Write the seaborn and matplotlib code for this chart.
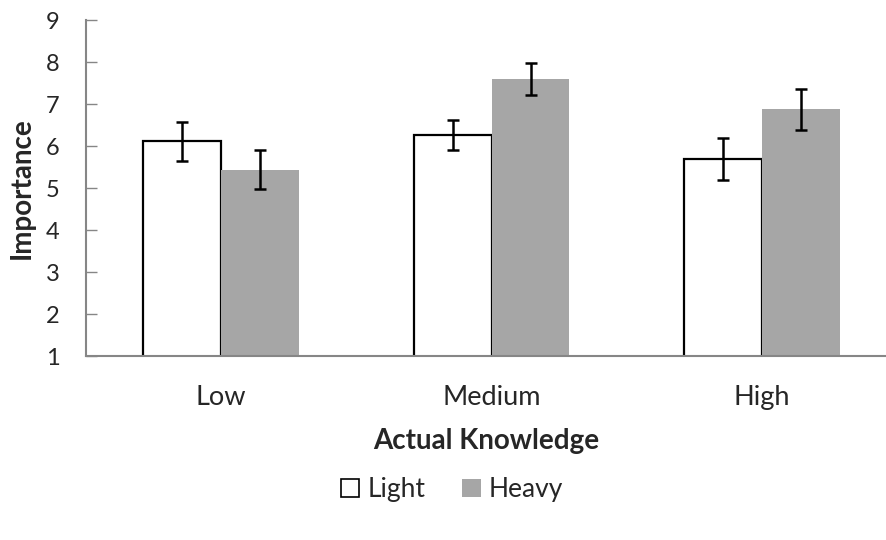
import pandas as pd
import matplotlib
matplotlib.use("Agg")
import matplotlib.pyplot as plt
from matplotlib.patches import Patch
import seaborn as sns

# datos
knowledge = ["Low", "Medium", "High"]
groups = ["Light", "Heavy"]
light_means = [6.11, 6.26, 5.69]
heavy_means = [5.44, 7.60, 6.87]
light_err = [0.47, 0.36, 0.51]
heavy_err = [0.47, 0.38, 0.49]

df = pd.DataFrame({
    "knowledge": knowledge * 2,
    "group": ["Light"] * 3 + ["Heavy"] * 3,
    "importance": light_means + heavy_means,
})

sns.set_theme(style="white")
plt.rcParams["font.family"] = ["Lato", "DejaVu Sans"]

fig = plt.figure(figsize=(8.86, 5.4), dpi=100)
ax = fig.add_axes([86 / 886, 0.3407, 800 / 886, 0.6222])

sns.barplot(data=df, x="knowledge", y="importance", hue="group",
            order=knowledge, hue_order=groups,
            palette={"Light": "white", "Heavy": "#a6a6a6"},
            width=0.576, errorbar=None, ax=ax, legend=False)

# bordes: Light con borde negro, Heavy sin borde
for patch, g in zip(ax.patches, ["Light"] * 3 + ["Heavy"] * 3):
    if g == "Light":
        patch.set_edgecolor("black")
        patch.set_linewidth(1.6)
    else:
        patch.set_edgecolor("none")

# barras de error
errs = light_err + heavy_err
for patch, e in zip(ax.patches[:6], errs):
    xc = patch.get_x() + patch.get_width() / 2
    ax.errorbar(xc, patch.get_height(), yerr=e, fmt="none", ecolor="black",
                elinewidth=1.8, capsize=4.5, capthick=1.8, zorder=5)

ax.set_ylim(1, 9)
ax.set_xlim(-0.499, 2.458)
ax.set_yticks(range(1, 10))
ax.tick_params(axis="y", direction="in", length=8, width=1, color="#868686",
               labelsize=17, pad=19, left=True)
ax.tick_params(axis="x", length=0, labelsize=19.5, pad=21)
for side in ["top", "right"]:
    ax.spines[side].set_visible(False)
for side in ["left", "bottom"]:
    ax.spines[side].set_color("#868686")
    ax.spines[side].set_linewidth(1.5)

ax.set_ylabel("Importance", fontsize=20, fontweight="bold", labelpad=8)
ax.set_xlabel("Actual Knowledge", fontsize=20, fontweight="bold", labelpad=13)

handles = [Patch(facecolor="white", edgecolor="black", linewidth=1.2),
           Patch(facecolor="#a6a6a6", edgecolor="none")]
fig.legend(handles, groups, loc="center", bbox_to_anchor=(0.51, 0.093),
           ncol=2, frameon=False, fontsize=19, handlelength=0.7,
           handleheight=0.7, handletextpad=0.3, columnspacing=1.4)

fig.savefig("out.png", dpi=100, facecolor="white")
plt.close()
